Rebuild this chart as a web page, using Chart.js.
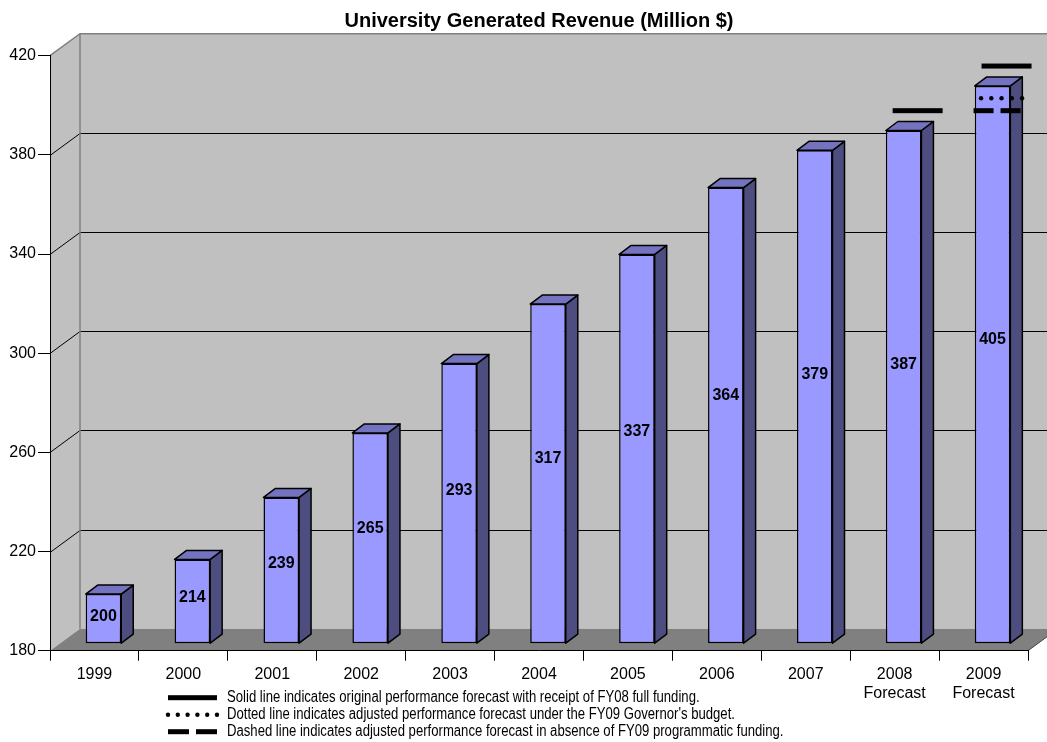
<!DOCTYPE html>
<html>
<head>
<meta charset="utf-8">
<title>University Generated Revenue</title>
<script src="https://cdn.jsdelivr.net/npm/chart.js@4.4.0/dist/chart.umd.min.js"></script>
<style>
  body { margin: 0; background: #fff; }
</style>
</head>
<body>
<canvas id="revenueChart" width="1047" height="742"></canvas>
<script>
// chart values
var years = ['1999', '2000', '2001', '2002', '2003', '2004', '2005', '2006', '2007',
             ['2008', 'Forecast'], ['2009', 'Forecast']];
var revenue = [200, 214, 239, 265, 293, 317, 337, 364, 379, 387, 405];
var solidForecast  = [null, null, null, null, null, null, null, null, null, 395, 413];
var dottedForecast = [null, null, null, null, null, null, null, null, null, null, 400];
var dashedForecast = [null, null, null, null, null, null, null, null, null, null, 395];
var yMin = 180, yMax = 420, yStep = 40;
var notes = [
  'Solid line indicates original performance forecast with receipt of FY08 full funding.',
  'Dotted line indicates adjusted performance forecast under the FY09 Governor\'s budget.',
  'Dashed line indicates adjusted performance forecast in absence of FY09 programmatic funding.'
];

// 3d look
var wallDepth = {x: 30, y: -22};
var barShift = {x: 9, y: -7};
var barDepth = {x: 12, y: -9};
var wallColor = '#c0c0c0', floorColor = '#808080', edgeColor = '#808080';
var frontColor = '#9999ff', topColor = '#7373c0', sideColor = '#4d4d80';
var fontFamily = "'Liberation Sans', Arial, Helvetica, sans-serif";

Chart.defaults.font.family = fontFamily;
Chart.defaults.color = '#000';

// footnote font is a narrow one; squeeze the normal one if narrow is missing
function hasFont(name) {
  var c = document.createElement('canvas').getContext('2d');
  var s = 'Solid line indicates original';
  c.font = '14px monospace';
  var w0 = c.measureText(s).width;
  c.font = '14px "' + name + '", monospace';
  return c.measureText(s).width !== w0;
}
var narrowOk = hasFont('Liberation Sans Narrow');

// walls, floor and gridlines behind everything
var walls = {
  id: 'walls',
  beforeDraw: function(chart) {
    var ctx = chart.ctx, a = chart.chartArea, y = chart.scales.y;
    var dx = wallDepth.x, dy = wallDepth.y;
    ctx.save();
    ctx.fillStyle = wallColor;
    ctx.fillRect(a.left + dx, a.top + dy, a.width, a.height);
    ctx.beginPath();
    ctx.moveTo(a.left, a.top);
    ctx.lineTo(a.left + dx, a.top + dy);
    ctx.lineTo(a.left + dx, a.bottom + dy);
    ctx.lineTo(a.left, a.bottom);
    ctx.closePath();
    ctx.fill();

    ctx.fillStyle = floorColor;
    ctx.beginPath();
    ctx.moveTo(a.left, a.bottom);
    ctx.lineTo(a.right, a.bottom);
    ctx.lineTo(a.right + dx, a.bottom + dy);
    ctx.lineTo(a.left + dx, a.bottom + dy);
    ctx.closePath();
    ctx.fill();

    ctx.strokeStyle = '#000';
    ctx.lineWidth = 1;
    y.ticks.forEach(function(t) {
      if (t.value <= yMin || t.value >= yMax) return;
      var py = Math.round(y.getPixelForValue(t.value)) + 0.5;
      ctx.beginPath();
      ctx.moveTo(a.left, py);
      ctx.lineTo(a.left + dx, py + dy);
      ctx.lineTo(a.right + dx, py + dy);
      ctx.stroke();
    });

    ctx.strokeStyle = edgeColor;
    ctx.lineWidth = 1.5;
    ctx.beginPath();
    ctx.moveTo(a.left, a.top);
    ctx.lineTo(a.left + dx, a.top + dy);
    ctx.lineTo(a.right + dx, a.top + dy);
    ctx.moveTo(a.left + dx, a.top + dy);
    ctx.lineTo(a.left + dx, a.bottom + dy);
    ctx.stroke();

    ctx.strokeStyle = '#404040';
    ctx.lineWidth = 1;
    ctx.beginPath();
    ctx.moveTo(a.right, a.bottom);
    ctx.lineTo(a.right + dx, a.bottom + dy);
    ctx.stroke();
    ctx.restore();
  }
};

// shift the bars back a little and give them a top and a side
var bars3d = {
  id: 'bars3d',
  beforeDatasetDraw: function(chart, args) {
    if (args.index !== 0) return;
    chart.ctx.save();
    chart.ctx.translate(barShift.x, barShift.y);
  },
  afterDatasetDraw: function(chart, args) {
    if (args.index !== 0) return;
    var ctx = chart.ctx;
    var vals = chart.data.datasets[0].data;
    ctx.lineWidth = 1.5;
    ctx.strokeStyle = '#000';
    ctx.lineJoin = 'round';
    args.meta.data.forEach(function(bar, i) {
      var p = bar.getProps(['x', 'y', 'base', 'width'], true);
      var l = p.x - p.width / 2, r = p.x + p.width / 2;
      var dx = barDepth.x, dy = barDepth.y;
      ctx.beginPath();
      ctx.moveTo(r, p.y);
      ctx.lineTo(r + dx, p.y + dy);
      ctx.lineTo(r + dx, p.base + dy);
      ctx.lineTo(r, p.base);
      ctx.closePath();
      ctx.fillStyle = sideColor;
      ctx.fill();
      ctx.stroke();

      ctx.beginPath();
      ctx.moveTo(l, p.y);
      ctx.lineTo(l + dx, p.y + dy);
      ctx.lineTo(r + dx, p.y + dy);
      ctx.lineTo(r, p.y);
      ctx.closePath();
      ctx.fillStyle = topColor;
      ctx.fill();
      ctx.stroke();

      // label sits a bit above the middle of the front face
      ctx.fillStyle = '#000';
      ctx.font = 'bold 16px ' + fontFamily;
      ctx.textAlign = 'center';
      ctx.textBaseline = 'middle';
      ctx.fillText(String(vals[i]), p.x, p.y + (p.base - p.y) * 0.456);
    });
    ctx.restore();
  }
};

// forecast marks above the last two bars
var markStyles = [
  {data: solidForecast, kind: 'solid', shift: 14, len: 50},
  {data: dottedForecast, kind: 'dotted', shift: 9, len: 41},
  {data: dashedForecast, kind: 'dashed', shift: 4.5, len: 47}
];

function drawMark(ctx, kind, x0, x1, cy) {
  if (kind === 'solid') {
    ctx.fillRect(x0, cy - 2.5, x1 - x0, 5);
  } else if (kind === 'dotted') {
    var n = Math.round((x1 - x0) / 10) + 1;
    var step = (x1 - x0) / (n - 1);
    for (var k = 0; k < n; k++) {
      ctx.beginPath();
      ctx.arc(x0 + k * step, cy, 2.2, 0, Math.PI * 2);
      ctx.fill();
    }
  } else {
    var gap = 7, dash = (x1 - x0 - gap) / 2;
    ctx.fillRect(x0, cy - 2.5, dash, 5);
    ctx.fillRect(x1 - dash, cy - 2.5, dash, 5);
  }
}

var forecastMarks = {
  id: 'forecastMarks',
  afterDatasetsDraw: function(chart) {
    var ctx = chart.ctx, xs = chart.scales.x, ys = chart.scales.y;
    ctx.save();
    ctx.fillStyle = '#000';
    markStyles.forEach(function(m) {
      m.data.forEach(function(v, i) {
        if (v === null) return;
        var cx = xs.getPixelForValue(i) + barShift.x + m.shift;
        var cy = ys.getPixelForValue(v) + barShift.y;
        drawMark(ctx, m.kind, cx - m.len / 2, cx + m.len / 2, cy);
      });
    });
    ctx.restore();
  }
};

// footnotes under the axis
var footnotes = {
  id: 'footnotes',
  afterDraw: function(chart) {
    var ctx = chart.ctx, a = chart.chartArea;
    var squeeze = narrowOk ? 1 : 0.82;
    ctx.save();
    ctx.fillStyle = '#000';
    notes.forEach(function(txt, i) {
      var cy = a.bottom + 47 + i * 17;
      drawMark(ctx, markStyles[i].kind, 168, 217, cy);
      ctx.save();
      ctx.font = narrowOk ? '16px "Liberation Sans Narrow", sans-serif' : '16px ' + fontFamily;
      ctx.textAlign = 'left';
      ctx.textBaseline = 'middle';
      ctx.scale(squeeze, 1);
      ctx.fillText(txt, 227 / squeeze, cy);
      ctx.restore();
    });
    ctx.restore();
  }
};

new Chart(document.getElementById('revenueChart'), {
  type: 'bar',
  data: {
    labels: years,
    datasets: [{
      data: revenue,
      base: yMin,
      backgroundColor: frontColor,
      borderColor: '#000',
      borderWidth: 1.5,
      borderSkipped: false,
      barPercentage: 0.4,
      categoryPercentage: 1,
      clip: false
    }]
  },
  options: {
    responsive: false,
    animation: false,
    layout: { padding: { left: 0, right: 19, top: 0, bottom: 0 } },
    plugins: {
      legend: { display: false },
      tooltip: { enabled: false },
      title: {
        display: true,
        fullSize: false,
        text: 'University Generated Revenue (Million $)',
        color: '#000',
        font: { size: 20, weight: 'bold' },
        padding: { top: 9.5, bottom: 22.2 }
      }
    },
    scales: {
      x: {
        grid: { display: true, drawOnChartArea: false, drawTicks: true, tickLength: 10, color: '#000', offset: true },
        border: { display: true, color: '#000', width: 1 },
        ticks: { font: { size: 16 }, padding: 4, maxRotation: 0, autoSkip: false },
        afterFit: function(scale) { scale.height = 91.3; }
      },
      y: {
        min: yMin,
        max: yMax,
        grid: { display: true, drawOnChartArea: false, drawTicks: true, tickLength: 12, color: '#000' },
        border: { display: true, color: '#000', width: 1 },
        ticks: { stepSize: yStep, font: { size: 16 }, padding: 2 },
        afterFit: function(scale) { scale.width = 50; }
      }
    }
  },
  plugins: [walls, bars3d, forecastMarks, footnotes]
});
</script>
</body>
</html>
